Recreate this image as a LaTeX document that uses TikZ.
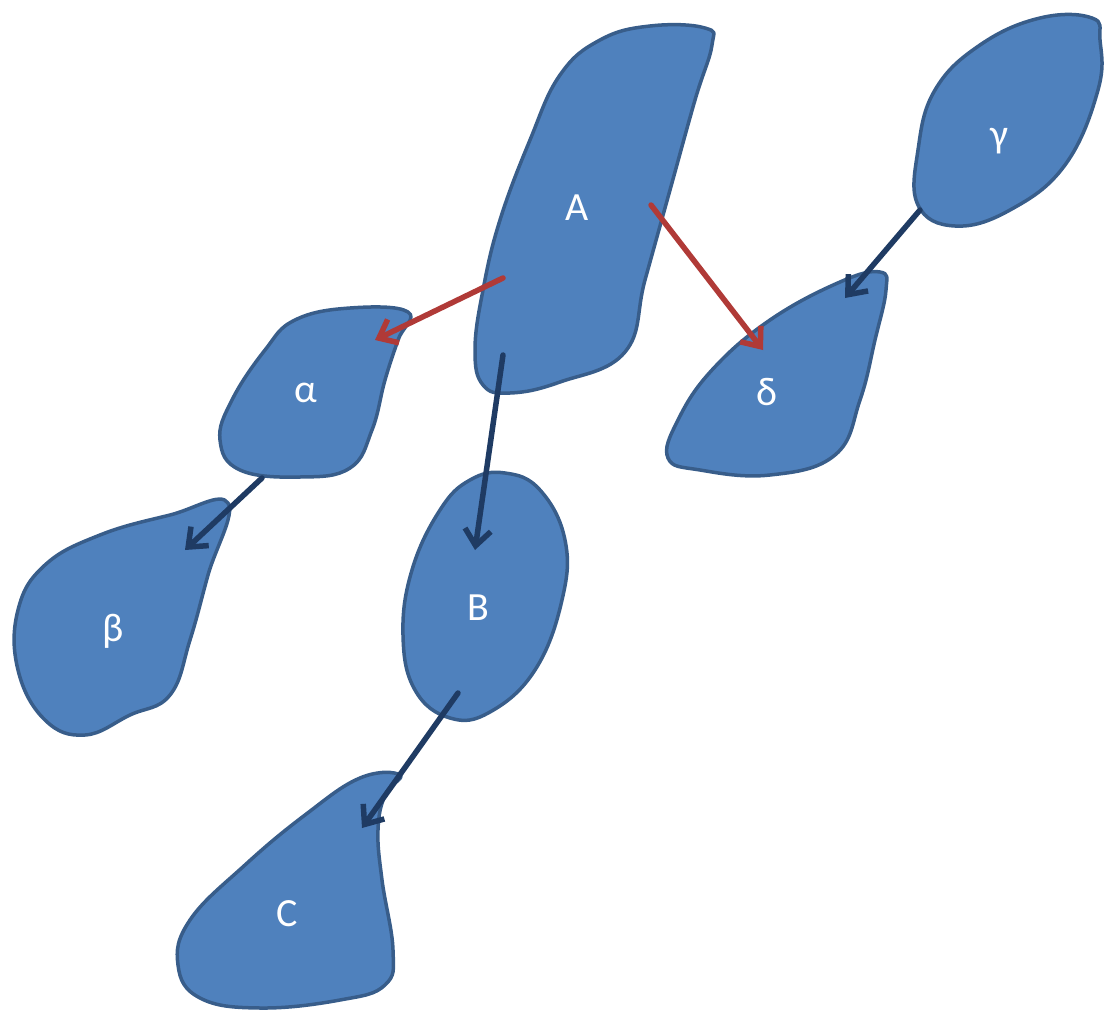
\documentclass[tikz,border=0pt]{standalone}
\usepackage{fontspec}
\setmainfont{Carlito}
\usetikzlibrary{arrows.meta}
\definecolor{blobfill}{HTML}{4F81BD}
\definecolor{blobline}{HTML}{385D8A}
\definecolor{navyarrow}{HTML}{1F3B63}
\definecolor{redarrow}{HTML}{B03A37}
\tikzset{
  blob/.style={fill=blobfill, draw=blobline, line width=3.5pt, line join=round},
  lbl/.style={text=white, font=\fontsize{40}{40}\selectfont, inner sep=0pt},
  link/.style={line width=5.5pt, line cap=round, -{Straight Barb[length=16pt, width=26pt, line width=5.5pt]}},
  navylink/.style={link, draw=navyarrow},
  redlink/.style={link, draw=redarrow}
}
\begin{document}
\begin{tikzpicture}[x=1pt, y=-1pt]
\useasboundingbox (0,0) rectangle (1104,1015);
% shapes
\draw[blob] plot[smooth cycle, tension=0.7] coordinates {(705,28) (650,26) (600,40) (560,75) (530,140) (500,220) (483,290) (475,350) (483,385) (510,393) (560,382) (625,352) (645,280) (670,190) (695,100) (712,45)};
\draw[blob] plot[smooth cycle, tension=0.7] coordinates {(408,312) (350,308) (295,320) (265,350) (232,400) (220,440) (240,470) (300,477) (350,468) (372,430) (385,380) (398,340)};
\draw[blob] plot[smooth cycle, tension=0.7] coordinates {(228,503) (170,515) (100,535) (45,565) (18,610) (18,670) (45,720) (85,735) (130,715) (170,695) (190,640) (208,575)};
\draw[blob] plot[smooth cycle, tension=0.7] coordinates {(505,473) (540,490) (565,540) (562,600) (535,670) (490,712) (450,718) (415,690) (403,635) (412,570) (440,510) (470,480)};
\draw[blob] plot[smooth cycle, tension=0.7] coordinates {(400,775) (360,778) (305,815) (245,865) (190,920) (178,965) (200,998) (260,1008) (340,1000) (385,985) (393,950) (382,880) (378,830) (385,795)};
\draw[blob] plot[smooth cycle, tension=0.7] coordinates {(1092,18) (1040,18) (980,45) (935,90) (918,150) (918,205) (955,226) (1010,210) (1065,165) (1098,90) (1100,40)};
\draw[blob] plot[smooth cycle, tension=0.7] coordinates {(880,272) (840,282) (770,320) (712,370) (678,420) (668,458) (700,470) (770,475) (835,455) (860,400) (875,340) (886,290)};
% labels
\node[lbl] (A) at (577,208) {A};
\node[lbl] (alpha) at (306,393) {α};
\node[lbl] (beta) at (113,631) {β};
\node[lbl] (B) at (478,608) {B};
\node[lbl] (C) at (287,914) {C};
\node[lbl] (gamma) at (999,141) {γ};
\node[lbl] (delta) at (767,392) {δ};
% arrow ends
\coordinate (aA1) at (503,278);
\coordinate (aAlpha) at (375,340);
\coordinate (aA2) at (651,205);
\coordinate (aDelta) at (763,350);
\coordinate (aA3) at (503,355);
\coordinate (aB) at (475,550);
\coordinate (aGamma) at (920,210);
\coordinate (aDelta2) at (845,298);
\coordinate (aAlpha2) at (262,478);
\coordinate (aBeta) at (185,550);
\coordinate (aB2) at (458,693);
\coordinate (aC) at (362,828);
% connectors
\draw[redlink] (aA1) -- (aAlpha);
\draw[redlink] (aA2) -- (aDelta);
\draw[navylink] (aA3) -- (aB);
\draw[navylink] (aGamma) -- (aDelta2);
\draw[navylink] (aAlpha2) -- (aBeta);
\draw[navylink] (aB2) -- (aC);
\end{tikzpicture}
\end{document}
